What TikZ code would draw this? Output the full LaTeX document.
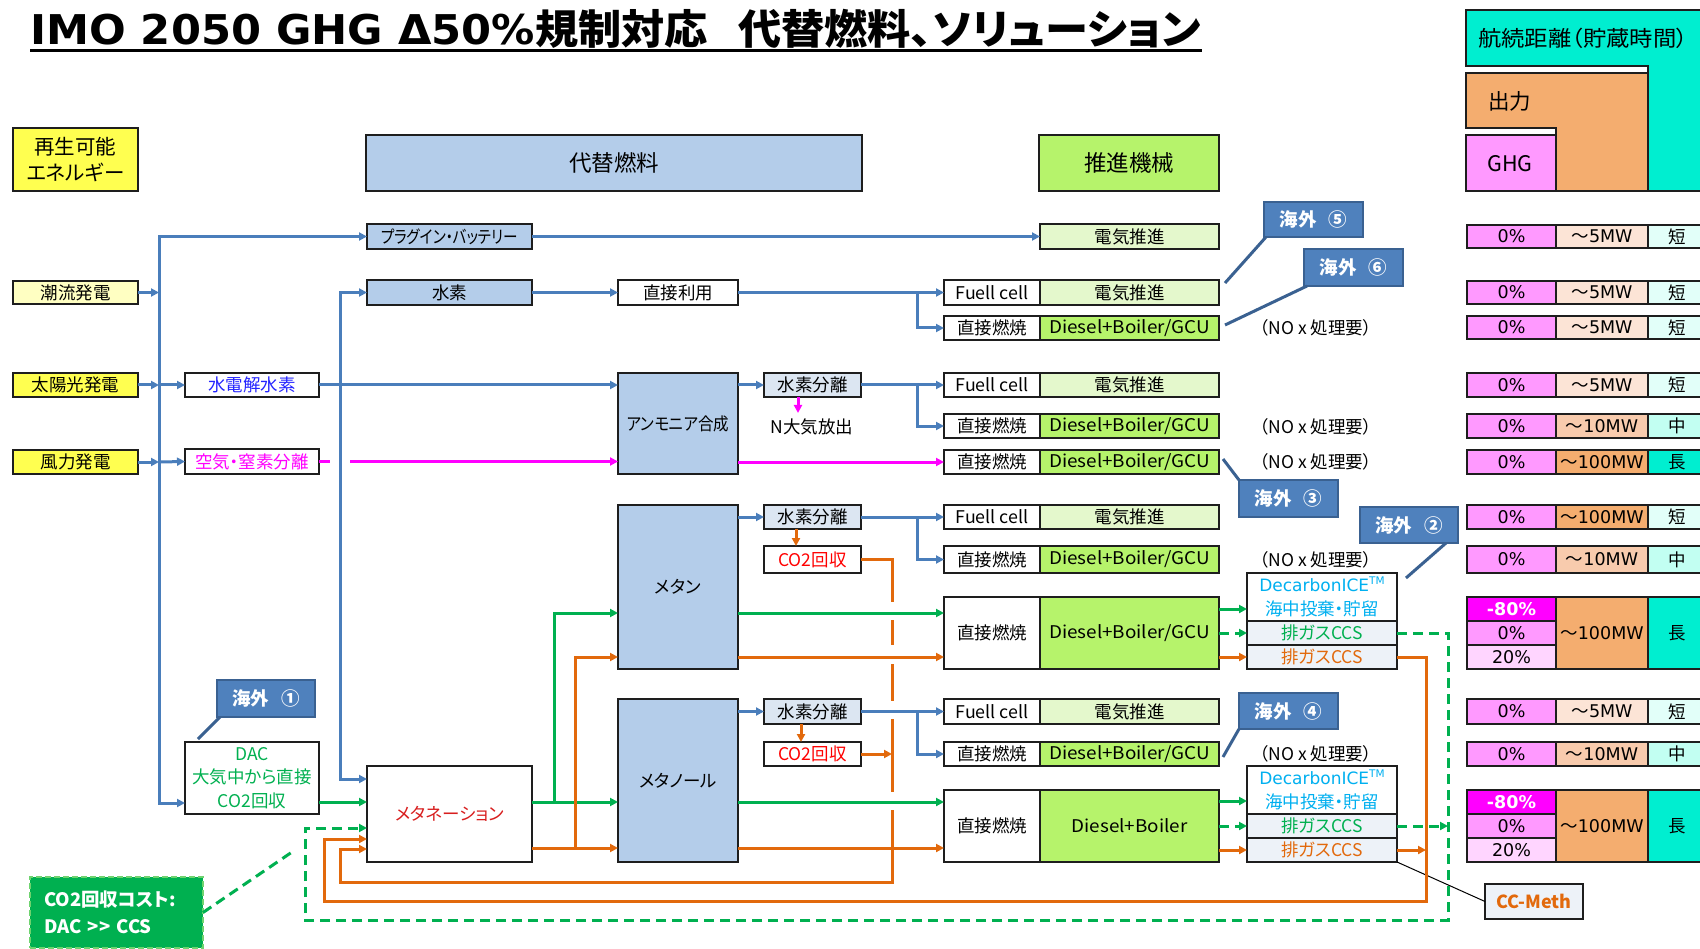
\documentclass[tikz,border=0pt]{standalone}
\usepackage{fontspec}
\usepackage{graphicx}
\setmainfont{Noto Sans CJK JP}[RawFeature=+palt]
\newfontfamily\dv{DejaVu Sans}
\usetikzlibrary{arrows.meta}
\definecolor{boxline}{HTML}{1E1E1E}
\definecolor{yelB}{HTML}{FFFF50}
\definecolor{yelL}{HTML}{FFFFC2}
\definecolor{bluL}{HTML}{B4CDEA}
\definecolor{sepF}{HTML}{DCE6F2}
\definecolor{evF}{HTML}{E4F8CC}
\definecolor{dgF}{HTML}{B6F36B}
\definecolor{ccsF}{HTML}{EDF2F8}
\definecolor{lnB}{HTML}{4A7EBB}
\definecolor{lnG}{HTML}{00B050}
\definecolor{lnO}{HTML}{E2690C}
\definecolor{lnP}{HTML}{FF00FF}
\definecolor{txR}{HTML}{FF0000}
\definecolor{txRd}{HTML}{D81E1E}
\definecolor{txB}{HTML}{2424FF}
\definecolor{txC}{HTML}{00B0F0}
\definecolor{calfill}{HTML}{4F81BD}
\definecolor{caldraw}{HTML}{3A6191}
\definecolor{ghgP}{HTML}{FF99FF}
\definecolor{ghgM}{HTML}{FF00FF}
\definecolor{ghgL}{HTML}{FFD5FF}
\definecolor{out5}{HTML}{FCE4D6}
\definecolor{out10}{HTML}{F8CBAD}
\definecolor{out100}{HTML}{F4AD6F}
\definecolor{teS}{HTML}{E2FFF9}
\definecolor{teM}{HTML}{C2FFF2}
\definecolor{teL}{HTML}{00EED0}
\definecolor{costF}{HTML}{00B050}
\definecolor{costD}{HTML}{6FD36F}
\newcommand\fs[2]{\fontsize{#1}{#2}\selectfont}
\newcommand\fw[2]{\resizebox{#1pt}{\height}{#2}}
\tikzset{
  bx/.style={draw=boxline, line width=1.6pt, inner sep=0pt, outer sep=0pt, anchor=north west, font=\fs{17.5}{22}, align=center},
  cal/.style={fill=calfill, draw=caldraw, line width=2.5pt, inner sep=0pt, outer sep=0pt, anchor=north west, text=white, font=\fs{18.5}{22}\bfseries},
  calln/.style={draw=caldraw, line width=3pt},
  ar/.style={-{Triangle[length=8pt,width=8pt]}},
  cb/.style={draw=lnB, line width=3pt},
  cg/.style={draw=lnG, line width=3pt},
  co/.style={draw=lnO, line width=3pt},
  cp/.style={draw=lnP, line width=3pt},
  cgd/.style={draw=lnG, line width=3pt, dash pattern=on 10pt off 6pt},
  lbl/.style={inner sep=0pt, font=\fs{17.5}{22}},
  lgd/.style={draw=boxline, line width=1.6pt},
  tall/.style={font=\fs{17.5}{23.5}},
}
\newcommand\B[7]{\node[bx,fill=#6,minimum width={#4pt-#2pt},minimum height={#5pt-#3pt}] (#1) at (#2,#3) {#7};}
\newcommand\C[6]{\node[cal,minimum width={#4pt-#2pt},minimum height={#5pt-#3pt}] (#1) at (#2,#3) {#6};}
\newcommand\TR[7]{\B{#1g}{1467}{#2}{1556}{#3}{ghgP}{\dv 0\%}\B{#1o}{1556}{#2}{1648}{#3}{#4}{#5}\B{#1t}{1648}{#2}{1712}{#3}{#6}{\hspace*{-5pt}#7}}
\begin{document}
\begin{tikzpicture}[x=1pt,y=-1pt]
\useasboundingbox (0,0) rectangle (1700,949);
\fill[white] (0,0) rectangle (1700,949);
\clip (0,0) rectangle (1700,949);
% title
\node[anchor=base west, inner sep=0pt] (title) at (30,45) {\resizebox{1171pt}{\height}{\fs{41}{48}\bfseries{\dv IMO 2050 GHG Δ50\%}規制対応\hspace{0.7em}代替燃料、ソリューション}};
\draw[line width=3pt] ([yshift=-6pt]title.base west) -- ([yshift=-6pt]title.base east);
% legend
\draw[lgd, fill=teL] (1466,10) -- (1712,10) -- (1712,191) -- (1648,191) -- (1648,66) -- (1466,66) -- cycle;
\draw[lgd, fill=out100] (1466,73) -- (1648,73) -- (1648,191) -- (1556,191) -- (1556,128) -- (1466,128) -- cycle;
\draw[lgd, fill=ghgP] (1466,135) rectangle (1556,191);
\node[lbl, anchor=west, font=\fs{21.5}{24}] (lgR) at (1478,38) {\fw{210}{航続距離（貯蔵時間）}};
\node[lbl, anchor=west, font=\fs{21.5}{24}] (lgO) at (1488,101) {出力};
\node[lbl, anchor=west, font=\fs{21.5}{24}] (lgG) at (1487,164) {GHG};
% headers
\B{ren}{13}{128}{138}{191}{yelB,font=\fs{20.5}{26}}{再生可能\\エネルギー}
\B{daitai}{366}{135}{862}{191}{bluL,font=\fs{22.5}{26}}{代替燃料}
\B{suishin}{1039}{135}{1219}{191}{dgF,font=\fs{22.5}{26}}{推進機械}
% sources
\B{tide}{13}{281}{138}{304}{yelL}{潮流発電}
\B{solar}{13}{373}{138}{397}{yelB}{太陽光発電}
\B{wind}{13}{450}{138}{474}{yelB}{風力発電}
\B{elec}{185}{373}{319}{397}{white,text=txB}{水電解水素}
\B{air}{185}{449}{319}{474}{white,text=lnP}{空気・窒素分離}
\B{dac}{185}{742}{319}{814}{white,text=lnG,tall}{DAC\\大気中から直接\\CO2回収}
% fuels
\B{plug}{367}{224}{532}{249}{bluL}{\fw{137}{プラグイン・バッテリー}}
\B{h2}{367}{280}{532}{305}{bluL}{水素}
\B{meth}{367}{766}{532}{862}{white,text=txRd}{メタネーション}
\B{direct}{618}{280}{738}{305}{white}{直接利用}
\B{ammonia}{618}{373}{738}{474}{bluL}{\fw{102}{アンモニア合成}}
\B{methane}{618}{505}{738}{669}{bluL}{メタン}
\B{methanol}{618}{699}{738}{862}{bluL}{メタノール}
\B{sepA}{764}{373}{861}{397}{sepF}{水素分離}
\B{sepB}{764}{505}{861}{529}{sepF}{水素分離}
\B{co2B}{764}{546}{861}{573}{white,text=txR}{CO2回収}
\B{sepC}{764}{699}{861}{724}{sepF}{水素分離}
\B{co2C}{764}{742}{861}{766}{white,text=txR}{CO2回収}
\node[lbl] (nrel) at (812,427) {N大気放出};
% propulsion
\B{ev0}{1040}{224}{1219}{249}{evF}{電気推進}
\B{fc1}{944}{280}{1040}{305}{white}{\fw{73}{Fuell cell}}
\B{ev1}{1040}{280}{1219}{305}{evF}{電気推進}
\B{dc1}{944}{316}{1040}{340}{white}{直接燃焼}
\B{dg1}{1040}{316}{1219}{340}{dgF}{\fw{161}{Diesel+Boiler/GCU}}
\B{fc2}{944}{373}{1040}{397}{white}{\fw{73}{Fuell cell}}
\B{ev2}{1040}{373}{1219}{397}{evF}{電気推進}
\B{dc2}{944}{414}{1040}{438}{white}{直接燃焼}
\B{dg2}{1040}{414}{1219}{438}{dgF}{\fw{161}{Diesel+Boiler/GCU}}
\B{dc3}{944}{450}{1040}{474}{white}{直接燃焼}
\B{dg3}{1040}{450}{1219}{474}{dgF}{\fw{161}{Diesel+Boiler/GCU}}
\B{fc4}{944}{505}{1040}{529}{white}{\fw{73}{Fuell cell}}
\B{ev4}{1040}{505}{1219}{529}{evF}{電気推進}
\B{dc4}{944}{546}{1040}{573}{white}{直接燃焼}
\B{dg4}{1040}{546}{1219}{573}{dgF}{\fw{161}{Diesel+Boiler/GCU}}
\B{dc5}{944}{597}{1040}{669}{white}{直接燃焼}
\B{dg5}{1040}{597}{1219}{669}{dgF}{\fw{161}{Diesel+Boiler/GCU}}
\B{fc6}{944}{699}{1040}{724}{white}{\fw{73}{Fuell cell}}
\B{ev6}{1040}{699}{1219}{724}{evF}{電気推進}
\B{dc6}{944}{742}{1040}{766}{white}{直接燃焼}
\B{dg6}{1040}{742}{1219}{766}{dgF}{\fw{161}{Diesel+Boiler/GCU}}
\B{dc7}{944}{790}{1040}{862}{white}{直接燃焼}
\B{dg7}{1040}{790}{1219}{862}{dgF}{\fw{116}{Diesel+Boiler}}
% CCS stacks
\B{dA}{1247}{573}{1397}{621}{white,text=txC,tall}{{\dv\fs{17}{23.5}DecarbonICE}\raisebox{7pt}{\dv\fs{10.5}{12}TM}\\海中投棄・貯留}
\B{cA1}{1247}{621}{1397}{645}{ccsF,text=lnG}{排ガスCCS}
\B{cA2}{1247}{645}{1397}{669}{ccsF,text=lnO}{排ガスCCS}
\B{dB}{1247}{766}{1397}{814}{white,text=txC,tall}{{\dv\fs{17}{23.5}DecarbonICE}\raisebox{7pt}{\dv\fs{10.5}{12}TM}\\海中投棄・貯留}
\B{cB1}{1247}{814}{1397}{838}{ccsF,text=lnG}{排ガスCCS}
\B{cB2}{1247}{838}{1397}{862}{ccsF,text=lnO}{排ガスCCS}
% NOx labels
\node[lbl] (nx1) at (1316,328) {（NO x 処理要）};
\node[lbl] (nx2) at (1316,427) {（NO x 処理要）};
\node[lbl] (nx3) at (1316,462) {（NO x 処理要）};
\node[lbl] (nx4) at (1316,560) {（NO x 処理要）};
\node[lbl] (nx5) at (1316,754) {（NO x 処理要）};
% table
\TR{r1}{225}{248}{out5}{～{\dv 5MW}}{teS}{短}
\TR{r2}{281}{304}{out5}{～{\dv 5MW}}{teS}{短}
\TR{r3}{316}{339}{out5}{～{\dv 5MW}}{teS}{短}
\TR{r4}{373}{397}{out5}{～{\dv 5MW}}{teS}{短}
\TR{r5}{414}{438}{out10}{～{\dv 10MW}}{teM}{中}
\TR{r6}{450}{474}{out100}{～{\dv 100MW}}{teL}{長}
\TR{r7}{505}{529}{out100}{～{\dv 100MW}}{teS}{短}
\TR{r8}{546}{573}{out10}{～{\dv 10MW}}{teM}{中}
\B{r9a}{1467}{597}{1556}{621}{ghgM,text=white}{\dv\bfseries -80\%}
\B{r9b}{1467}{621}{1556}{645}{ghgP}{\dv 0\%}
\B{r9c}{1467}{645}{1556}{669}{ghgL}{\dv 20\%}
\B{r9o}{1556}{597}{1648}{669}{out100}{～{\dv 100MW}}
\B{r9t}{1648}{597}{1712}{669}{teL}{\hspace*{-5pt}長}
\TR{r10}{699}{724}{out5}{～{\dv 5MW}}{teS}{短}
\TR{r11}{742}{766}{out10}{～{\dv 10MW}}{teM}{中}
\B{r12a}{1467}{790}{1556}{814}{ghgM,text=white}{\dv\bfseries -80\%}
\B{r12b}{1467}{814}{1556}{838}{ghgP}{\dv 0\%}
\B{r12c}{1467}{838}{1556}{862}{ghgL}{\dv 20\%}
\B{r12o}{1556}{790}{1648}{862}{out100}{～{\dv 100MW}}
\B{r12t}{1648}{790}{1712}{862}{teL}{\hspace*{-5pt}長}
% callouts
\C{c5}{1264}{202}{1363}{237}{海外\hspace{12pt}⑤}
\C{c6}{1304}{249}{1403}{286}{海外\hspace{12pt}⑥}
\C{c3}{1239}{480}{1338}{517}{海外\hspace{12pt}③}
\C{c2}{1360}{507}{1458}{543}{海外\hspace{12pt}②}
\C{c4}{1239}{693}{1338}{729}{海外\hspace{12pt}④}
\C{c1}{217}{680}{315}{717}{海外\hspace{12pt}①}
\coordinate (p5) at (1225,283);
\coordinate (p6) at (1225,325);
\coordinate (p3) at (1223,459);
\coordinate (p2) at (1406,578);
\coordinate (p4) at (1223,757);
\coordinate (p1) at (198,739);
\draw[calln] ([xshift=2pt]c5.south west) -- (p5);
\draw[calln] ([xshift=3pt]c6.south west) -- (p6);
\draw[calln] (c3.north west) -- (p3);
\draw[calln] ([xshift=-12pt]c2.south east) -- (p2);
\draw[calln] (c4.south west) -- (p4);
\draw[calln] ([xshift=3pt]c1.south west) -- (p1);
% CC-Meth and cost
\B{ccm}{1485}{884}{1583}{919}{ccsF,text=lnO}{\bfseries\fs{18}{22}CC-Meth}
\draw[black, line width=1pt] (cB2.south east) -- (ccm.west);
\node[draw=costD, fill=costF, line width=2pt, dash pattern=on 6pt off 3pt, anchor=north west, inner xsep=14pt, inner ysep=0pt, outer sep=0pt, text width=145pt, minimum height=71pt, align=left, text=white, font=\fs{18.5}{27}\bfseries] (cost) at (30,877) {CO2回収コスト:\\DAC >{}> CCS};
\coordinate (pc) at (295,850);
\draw[cgd] (cost.east) -- (pc);
% ===== connectors =====
\coordinate (tr) at (159,0);
\coordinate (v1) at (340,0);
\coordinate (br) at (917,0);
\coordinate (pg) at (350,0);
\coordinate (nA) at (798,413);
\coordinate (oB) at (796,0);
\coordinate (oC) at (801,0);
\coordinate (vx) at (892,0);
\coordinate (gx) at (554,0);
\coordinate (ox) at (575,0);
\coordinate (gl) at (1448,0);
\coordinate (ol) at (1426,0);
\coordinate (dacIn) at ([yshift=-25pt]dac.west);
\coordinate (dacOut) at ([yshift=-24pt]dac.east);
\coordinate (methIn1) at ([yshift=35pt]meth.west);
\coordinate (methIn2) at ([yshift=-14pt]meth.west);
\coordinate (methIn3) at ([yshift=-25pt]meth.west);
\coordinate (methIn4) at ([yshift=-35pt]meth.west);
\coordinate (mo) at ([yshift=-34pt]meth.east);
\coordinate (mthG) at ([yshift=-26pt]methane.west);
\coordinate (mthO) at ([yshift=-70pt]methane.west);
\coordinate (sAg) at ([yshift=-12pt]dA.west);
\coordinate (sBg) at ([yshift=-11pt]dB.west);
% blue
\draw[cb,ar] (tide.east) -- (tide.east -| tr);
\draw[cb,ar] (solar.east) -- (solar.east -| tr);
\draw[cb,ar] (solar.east -| tr) -- (elec.west);
\draw[cb,ar] (wind.east) -- (wind.east -| tr);
\draw[cb,ar] (wind.east -| tr) -- (air.west);
\draw[cb,ar] (plug.west -| tr) |- (dacIn);
\draw[cb,ar] (dacIn -| tr) |- (plug.west);
\draw[cb,ar] (plug.east) -- (ev0.west);
\draw[cb,ar] (elec.east) -- (elec.east -| ammonia.west);
\draw[cb,ar] (elec.east -| v1) |- (h2.west);
\draw[cb,ar] (elec.east -| v1) |- (methIn1);
\draw[cb,ar] (h2.east) -- (direct.west);
\draw[cb,ar] (direct.east) -- (fc1.west);
\draw[cb,ar] (direct.east -| br) |- (dc1.west);
\draw[cb,ar] (sepA.west -| ammonia.east) -- (sepA.west);
\draw[cb,ar] (sepA.east) -- (fc2.west);
\draw[cb,ar] (sepA.east -| br) |- (dc2.west);
\draw[cb,ar] (sepB.west -| methane.east) -- (sepB.west);
\draw[cb,ar] (sepB.east) -- (fc4.west);
\draw[cb,ar] (sepB.east -| br) |- (dc4.west);
\draw[cb,ar] (sepC.west -| methanol.east) -- (sepC.west);
\draw[cb,ar] (sepC.east) -- (fc6.west);
\draw[cb,ar] (sepC.east -| br) |- (dc6.west);
% pink
\draw[cp,ar] (sepA.south -| nA) -- (nA);
\draw[cp] (air.east) -- ++(11,0);
\draw[cp,ar] (air.east -| pg) -- (air.east -| ammonia.west);
\draw[cp,ar] (dc3.west -| ammonia.east) -- (dc3.west);
% orange CO2
\draw[co,ar] (sepB.south -| oB) -- (co2B.north -| oB);
\draw[co,ar] (sepC.south -| oC) -- (co2C.north -| oC);
\draw[co] (co2B.east) -| (892,602);
\draw[co] (892,620) -- (892,645);
\draw[co] (892,664) -- (892,701);
\draw[co] (892,719) -- (892,792);
\draw[co,ar] (892,810) -- (892,882) -- (340,882) |- (methIn4);
\draw[co,ar] (co2C.east) -- (co2C.east -| vx);
% green / orange from methanation
\draw[cg,ar] (dacOut) -- (dacOut -| meth.west);
\draw[cg,ar] (dacOut -| meth.east) -- (dacOut -| methanol.west);
\draw[cg,ar] (dacOut -| gx) |- (mthG);
\draw[co,ar] (mo) -- (mo -| methanol.west);
\draw[co,ar] (mo -| ox) |- (mthO);
\draw[cg,ar] (mthG -| methane.east) -- (mthG -| dc5.west);
\draw[co,ar] (mthO -| methane.east) -- (mthO -| dc5.west);
\draw[cg,ar] (dacOut -| methanol.east) -- (dacOut -| dc7.west);
\draw[co,ar] (mo -| methanol.east) -- (mo -| dc7.west);
% to CCS
\draw[cg,ar] (sAg -| dg5.east) -- (sAg);
\draw[cgd,ar] (cA1.west -| dg5.east) -- (cA1.west);
\draw[co,ar] (cA2.west -| dg5.east) -- (cA2.west);
\draw[cg,ar] (sBg -| dg7.east) -- (sBg);
\draw[cgd,ar] (cB1.west -| dg7.east) -- (cB1.west);
\draw[co,ar] (cB2.west -| dg7.east) -- (cB2.west);
% return loops
\draw[cgd,ar] (cA1.east) -| (1448,920) -- (305,920) |- (methIn2);
\draw[cgd,ar] (cB1.east) -- (cB1.east -| gl);
\draw[co,ar] (cA2.east) -| (1426,901) -- (324,901) |- (methIn3);
\draw[co,ar] (cB2.east) -- (cB2.east -| ol);
\end{tikzpicture}
\end{document}
